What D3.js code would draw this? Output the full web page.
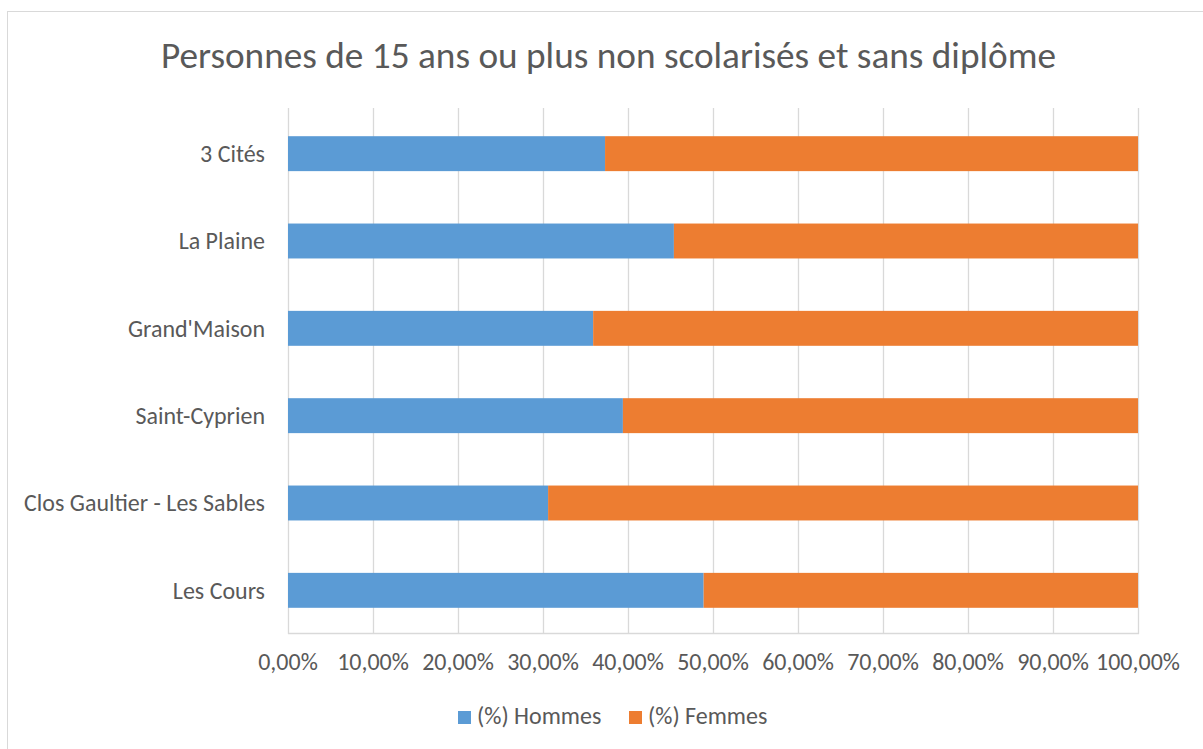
<!DOCTYPE html>
<html lang="fr">
<head>
<meta charset="utf-8">
<script src="https://cdn.jsdelivr.net/npm/d3@7"></script>
<style>
  html, body { margin: 0; padding: 0; background: #fff; }
  svg { display: block; font-family: Carlito, "Open Sans", "Noto Sans", sans-serif; }
</style>
</head>
<body>
<svg id="chart" width="1203" height="749"></svg>
<script>
// Quartiers, de haut en bas
const categories = ["3 Cités", "La Plaine", "Grand'Maison", "Saint-Cyprien", "Clos Gaultier - Les Sables", "Les Cours"];
// Part des hommes et des femmes (%)
const hommes = [37.3, 45.4, 35.9, 39.4, 30.6, 48.9];
const femmes = [62.7, 54.6, 64.1, 60.6, 69.4, 51.1];
const seriesNames = ["(%) Hommes", "(%) Femmes"];
const xTicks = [0, 10, 20, 30, 40, 50, 60, 70, 80, 90, 100];
const title = "Personnes de 15 ans ou plus non scolarisés et sans diplôme";

const colors = ["#5B9BD5", "#ED7D31"];
const textColor = "#595959";
const gridColor = "#d9d9d9";

const svg = d3.select("#chart");
const W = 1203, H = 749;

// Cadre du graphique
svg.append("rect")
  .attr("x", 7.5).attr("y", 11.5)
  .attr("width", W + 10).attr("height", H + 10)
  .attr("fill", "#fff").attr("stroke", gridColor).attr("stroke-width", 1);

const plot = { left: 288, right: 1138, top: 110, bottom: 634 };

const x = d3.scaleLinear().domain([0, 100]).range([plot.left, plot.right]);
const y = d3.scaleBand().domain(categories)
  .range([plot.top, plot.bottom]).paddingInner(0.6).paddingOuter(0.3);

// fit a text element's font size to a target width
function fitWidth(sel, target, base) {
  sel.attr("font-size", base);
  const w = sel.node().getComputedTextLength();
  sel.attr("font-size", base * target / w);
  return base * target / w;
}

// Titre
const t = svg.append("text")
  .attr("x", 608.5).attr("y", 68)
  .attr("text-anchor", "middle")
  .attr("fill", textColor)
  .text(title);
fitWidth(t, 895, 30);

// Lignes de quadrillage verticales
svg.append("g").selectAll("line")
  .data(xTicks)
  .join("line")
  .attr("x1", d => Math.round(x(d)) + 0.5)
  .attr("x2", d => Math.round(x(d)) + 0.5)
  .attr("y1", plot.top - 2).attr("y2", plot.bottom)
  .attr("stroke", gridColor).attr("stroke-width", 1.3);

// Axe horizontal bas
svg.append("line")
  .attr("x1", plot.left).attr("x2", plot.right + 1)
  .attr("y1", plot.bottom - 0.5).attr("y2", plot.bottom - 0.5)
  .attr("stroke", gridColor).attr("stroke-width", 1.3);

// Barres empilées
const stackData = categories.map((c, i) => ({ cat: c, h: hommes[i], f: femmes[i] }));
const stack = d3.stack().keys(["h", "f"])(stackData);

svg.append("g").selectAll("g")
  .data(stack)
  .join("g")
  .attr("fill", (d, i) => colors[i])
  .selectAll("rect")
  .data(d => d)
  .join("rect")
  .attr("x", d => x(d[0]))
  .attr("width", d => x(d[1]) - x(d[0]))
  .attr("y", d => y(d.data.cat))
  .attr("height", y.bandwidth());

// Étiquettes des catégories
const catLabels = svg.append("g").selectAll("text")
  .data(categories)
  .join("text")
  .attr("x", 265)
  .attr("y", d => y(d) + y.bandwidth() / 2)
  .attr("dy", "0.35em")
  .attr("text-anchor", "end")
  .attr("fill", textColor)
  .text(d => d);
const longest = catLabels.filter(d => d === "Clos Gaultier - Les Sables");
const labelSize = fitWidth(longest, 241, 18);
catLabels.attr("font-size", labelSize);

// Étiquettes de l'axe des x
const fr = d3.formatLocale({ decimal: ",", thousands: " ", grouping: [3], currency: ["", " €"], percent: "%" });
const fmt = fr.format(".2%");
svg.append("g").selectAll("text")
  .data(xTicks)
  .join("text")
  .attr("x", d => x(d))
  .attr("y", 670)
  .attr("text-anchor", "middle")
  .attr("fill", textColor)
  .attr("font-size", labelSize)
  .text(d => fmt(d / 100));

// Légende
const legendX = [458, 629];
const leg = svg.append("g").selectAll("g")
  .data(seriesNames)
  .join("g")
  .attr("transform", (d, i) => `translate(${legendX[i]},711)`);
leg.append("rect")
  .attr("width", 13).attr("height", 13)
  .attr("fill", (d, i) => colors[i]);
leg.append("text")
  .attr("x", 19).attr("y", 13)
  .attr("fill", textColor)
  .attr("font-size", labelSize)
  .text(d => d);
</script>
</body>
</html>
